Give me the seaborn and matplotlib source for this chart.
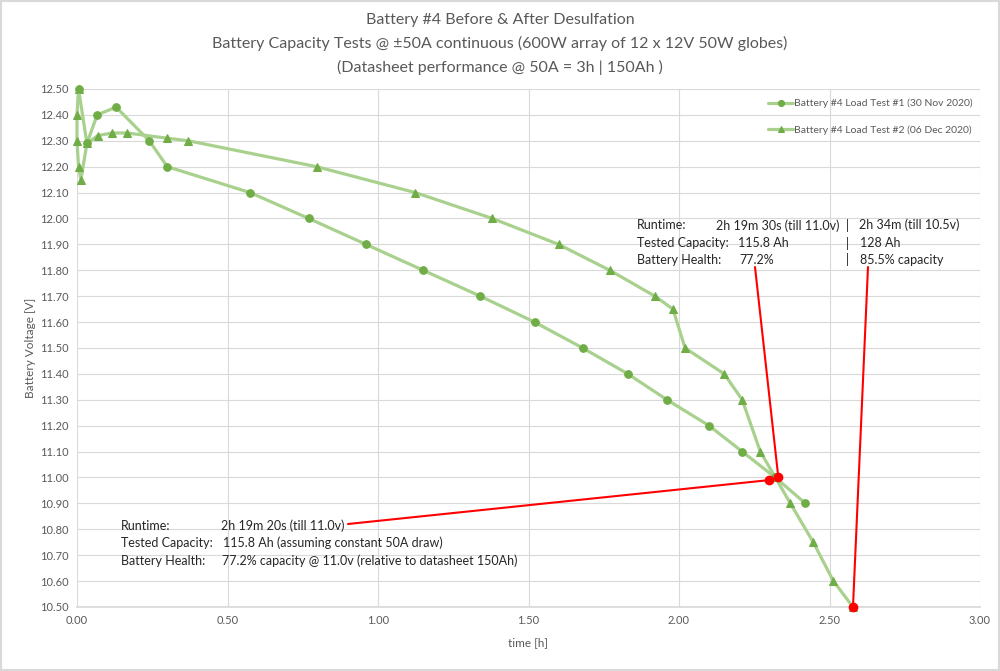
import matplotlib
matplotlib.use("Agg")
import matplotlib.pyplot as plt
import seaborn as sns
import pandas as pd

sns.set_theme(style="whitegrid")
plt.rcParams['font.family'] = ['Lato', 'DejaVu Sans']

# test #1 (30 Nov 2020), circles
t1_hours = [0.005, 0.033, 0.067, 0.13, 0.24, 0.30, 0.575, 0.77, 0.96, 1.15,
            1.34, 1.52, 1.68, 1.83, 1.96, 2.10, 2.21, 2.32, 2.42]
t1_volts = [12.50, 12.29, 12.40, 12.43, 12.30, 12.20, 12.10, 12.00, 11.90, 11.80,
            11.70, 11.60, 11.50, 11.40, 11.30, 11.20, 11.10, 11.00, 10.90]

# test #2 (06 Dec 2020), triangles
t2_hours = [0.005, 0.0, 0.0, 0.005, 0.013, 0.033, 0.069, 0.117, 0.167, 0.30,
            0.37, 0.796, 1.124, 1.38, 1.60, 1.77, 1.92, 1.98, 2.02, 2.15,
            2.21, 2.27, 2.32, 2.37, 2.446, 2.513, 2.578]
t2_volts = [12.50, 12.40, 12.30, 12.20, 12.15, 12.29, 12.32, 12.33, 12.33, 12.31,
            12.30, 12.20, 12.10, 12.00, 11.90, 11.80, 11.70, 11.65, 11.50, 11.40,
            11.30, 11.10, 11.00, 10.90, 10.75, 10.60, 10.50]

labels = ['Battery #4 Load Test #1 (30 Nov 2020)',
          'Battery #4 Load Test #2 (06 Dec 2020)']

# red end-of-runtime markers
cutoff_hours = [2.30, 2.33, 2.578]
cutoff_volts = [10.99, 11.00, 10.50]

line_c = '#a9d18e'
mark_c = '#70ad47'
grey = '#595959'

fig = plt.figure(figsize=(10, 6.71), dpi=100)
ax = fig.add_axes([0.077, 0.0954, 0.903, 0.772])

df1 = pd.DataFrame({'time': t1_hours, 'volts': t1_volts})
df2 = pd.DataFrame({'time': t2_hours, 'volts': t2_volts})
sns.lineplot(data=df2, x='time', y='volts', sort=False, estimator=None, ax=ax,
             color=line_c, linewidth=2.3, marker='^', markersize=5.5,
             markerfacecolor=mark_c, markeredgecolor=mark_c, label=labels[1])
sns.lineplot(data=df1, x='time', y='volts', sort=False, estimator=None, ax=ax,
             color=line_c, linewidth=2.3, marker='o', markersize=5.5,
             markerfacecolor=mark_c, markeredgecolor=mark_c, label=labels[0])
for ln in ax.lines:
    ln.set_clip_on(False)

ax.set_xlim(0, 3.0)
ax.set_ylim(10.5, 12.5)
ax.set_xticks([i * 0.5 for i in range(7)])
ax.set_yticks([10.5 + i * 0.1 for i in range(21)])
ax.xaxis.set_major_formatter(matplotlib.ticker.FormatStrFormatter('%.2f'))
ax.yaxis.set_major_formatter(matplotlib.ticker.FormatStrFormatter('%.2f'))
ax.tick_params(labelsize=8, colors=grey, length=0, pad=6)
ax.grid(color='#d9d9d9', linewidth=0.8)
for s in ['top', 'right', 'left']:
    ax.spines[s].set_visible(False)
ax.spines['bottom'].set_color('#d9d9d9')
ax.set_xlabel('time [h]', fontsize=8.5, color=grey, labelpad=8)
ax.set_ylabel('Battery Voltage [V]', fontsize=8.5, color=grey, labelpad=3)

# legend in test order (#1 first)
h, l = ax.get_legend_handles_labels()
ax.legend(h[::-1], l[::-1], loc='upper right', frameon=False, fontsize=7.5,
          labelcolor=grey, labelspacing=1.6, handlelength=2.4, handletextpad=0.1,
          bbox_to_anchor=(1.0, 0.995), borderaxespad=0.3, markerscale=0.8)

fig.text(0.5, 0.970, 'Battery #4 Before & After Desulfation', ha='center',
         va='center', fontsize=11.5, color=grey)
fig.text(0.5, 0.935, 'Battery Capacity Tests @ \u00b150A continuous (600W array of 12 x 12V 50W globes)',
         ha='center', va='center', fontsize=11.5, color=grey)
fig.text(0.5, 0.900, '(Datasheet performance @ 50A = 3h | 150Ah )', ha='center',
         va='center', fontsize=11.5, color=grey)

# annotation blocks (figure fraction positions)
txt = dict(fontsize=9, color='#262626', va='center')
rows_hi = [1 - 225 / 671, 1 - 243 / 671, 1 - 260 / 671]
fig.text(0.637, rows_hi[0], 'Runtime:', **txt)
fig.text(0.716, rows_hi[0], '2h 19m 30s (till 11.0v)  |', **txt)
fig.text(0.859, rows_hi[0], '2h 34m (till 10.5v)', **txt)
fig.text(0.637, rows_hi[1], 'Tested Capacity:', **txt)
fig.text(0.738, rows_hi[1], '115.8 Ah', **txt)
fig.text(0.846, rows_hi[1], '|', **txt)
fig.text(0.860, rows_hi[1], '128 Ah', **txt)
fig.text(0.637, rows_hi[2], 'Battery Health:', **txt)
fig.text(0.739, rows_hi[2], '77.2%', **txt)
fig.text(0.846, rows_hi[2], '|', **txt)
fig.text(0.860, rows_hi[2], '85.5% capacity', **txt)

rows_lo = [1 - 526 / 671, 1 - 543 / 671, 1 - 561 / 671]
fig.text(0.121, rows_lo[0], 'Runtime:', **txt)
fig.text(0.221, rows_lo[0], '2h 19m 20s (till 11.0v)', **txt)
fig.text(0.121, rows_lo[1], 'Tested Capacity:', **txt)
fig.text(0.223, rows_lo[1], '115.8 Ah (assuming constant 50A draw)', **txt)
fig.text(0.121, rows_lo[2], 'Battery Health:', **txt)
fig.text(0.222, rows_lo[2], '77.2% capacity @ 11.0v (relative to datasheet 150Ah)', **txt)

# red leader lines from text to the cutoff points
leader_from = [(0.348, 1 - 524 / 671), (0.755, 1 - 267 / 671), (0.868, 1 - 267 / 671)]
for (fx, fy), hx, hy in zip(leader_from, cutoff_hours, cutoff_volts):
    ax.annotate('', xy=(hx, hy), xycoords='data', xytext=(fx, fy),
                textcoords='figure fraction',
                arrowprops=dict(arrowstyle='-', color='#ff0000', lw=1.5,
                                shrinkA=0, shrinkB=0), annotation_clip=False)
ax.scatter(cutoff_hours, cutoff_volts, s=36, color='#ff0000', zorder=5,
           clip_on=False)

fig.patches.append(matplotlib.patches.Rectangle((0.001, 0.001), 0.998, 0.998,
                   transform=fig.transFigure, fill=False, edgecolor='#d9d9d9', lw=1.5))

fig.savefig('out.png', dpi=100)
